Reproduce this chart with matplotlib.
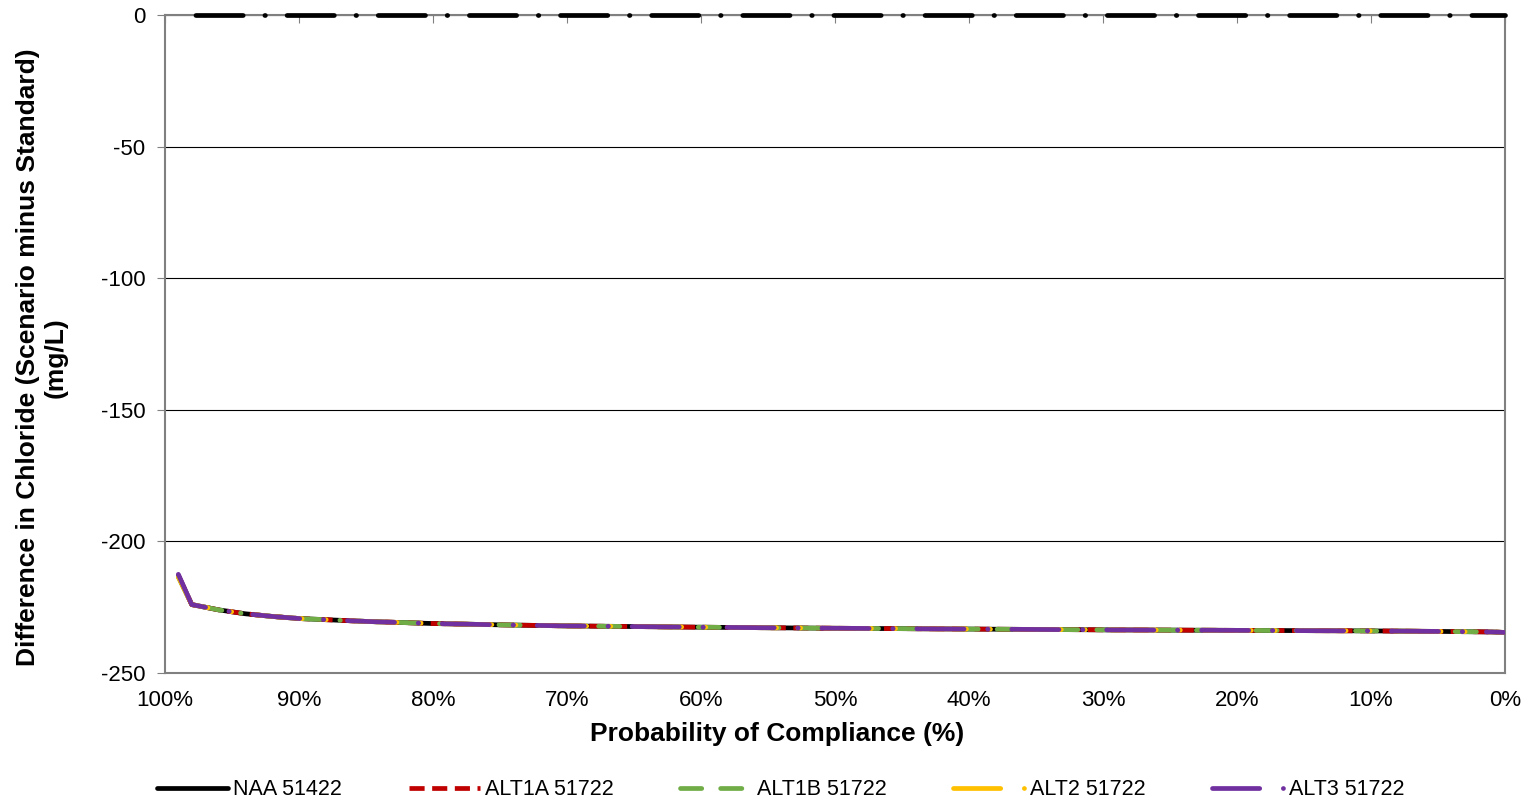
import matplotlib
matplotlib.use("Agg")
import matplotlib.pyplot as plt
from matplotlib.ticker import FuncFormatter, MultipleLocator

plt.rcParams['font.family'] = ['Liberation Sans', 'DejaVu Sans']

# Data (probability of compliance %, difference mg/L)
prob = [99, 98, 96, 94, 92, 90, 85, 80, 75, 70, 60, 50, 40, 30, 20, 10, 5, 1, 0]
naa = [-213, -224, -226, -227.5, -228.5, -229.3, -230.4, -231.2, -231.7, -232.1,
       -232.6, -233.0, -233.3, -233.6, -233.8, -234.0, -234.2, -234.4, -234.6]
alt1a = [-213, -224, -226, -227.5, -228.5, -229.3, -230.4, -231.2, -231.7, -232.1,
         -232.6, -233.0, -233.3, -233.6, -233.8, -234.0, -234.2, -234.4, -234.6]
alt1b = [-213.5, -224, -226, -227.5, -228.5, -229.3, -230.4, -231.2, -231.7, -232.1,
         -232.6, -233.0, -233.3, -233.6, -233.8, -234.0, -234.2, -234.4, -234.6]
alt2 = [-213.5, -224, -226, -227.5, -228.5, -229.3, -230.4, -231.2, -231.7, -232.1,
        -232.6, -233.0, -233.3, -233.6, -233.8, -234.0, -234.2, -234.4, -234.6]
alt3 = [-212.5, -224, -226, -227.5, -228.5, -229.3, -230.4, -231.2, -231.7, -232.1,
        -232.6, -233.0, -233.3, -233.6, -233.8, -234.0, -234.2, -234.4, -234.6]
standard_x = [99, 0]
standard_y = [0, 0]

labels = ['NAA 51422', 'ALT1A 51722', 'ALT1B 51722', 'ALT2 51722', 'ALT3 51722']

fig = plt.figure(figsize=(15.3, 8.06), dpi=100)
ax = fig.add_axes([0.1078, 0.165, 0.8759, 0.8164])

lw = 3.4
ax.plot(standard_x, standard_y, color='black', lw=lw,
        linestyle=(15.6, (10, 4.6, 0.1, 4.6)),
        dash_capstyle='round', solid_capstyle='round', clip_on=False, zorder=3)

ax.plot(prob, naa, color='black', lw=lw, label=labels[0], solid_capstyle='round', zorder=4)
ax.plot(prob, alt1a, color='#C00000', lw=lw, label=labels[1], dashes=(3.2, 1.6), zorder=5)
ax.plot(prob, alt1b, color='#70AD47', lw=lw, label=labels[2], dashes=(4.5, 4, 4.5, 4, 0.1, 4),
        dash_capstyle='round', zorder=6)
ax.plot(prob, alt2, color='#FFC000', lw=lw, label=labels[3], dashes=(10, 5, 0.1, 5),
        dash_capstyle='round', zorder=7)
ax.plot(prob, alt3, color='#7030A0', lw=lw, label=labels[4], dashes=(10, 5, 0.1, 5),
        dash_capstyle='round', zorder=8)

ax.set_xlim(100, 0)
ax.set_ylim(-250, 0)
ax.xaxis.set_major_locator(MultipleLocator(10))
ax.yaxis.set_major_locator(MultipleLocator(50))
ax.xaxis.set_major_formatter(FuncFormatter(lambda v, p: f"{int(round(v))}%"))
ax.yaxis.set_major_formatter(FuncFormatter(lambda v, p: f"{int(round(v))}"))

ax.grid(axis='y', color='black', lw=0.8)
ax.set_axisbelow(True)

for s in ['left', 'right', 'bottom', 'top']:
    ax.spines[s].set_color('#808080')
    ax.spines[s].set_linewidth(1.5)

ax.tick_params(axis='y', direction='out', length=6, color='#808080', labelsize=16, pad=8)
ax.tick_params(axis='x', bottom=False, top=True, direction='in', length=6, color='#808080',
               labelsize=16, pad=12, labelbottom=True, labeltop=False)

ax.set_xlabel('Probability of Compliance (%)', fontsize=19, fontweight='bold')
ax.set_ylabel('Difference in Chloride (Scenario minus Standard)\n(mg/L)', fontsize=19,
              fontweight='bold')
ax.xaxis.set_label_coords(0.457, -0.074)
ax.yaxis.set_label_coords(-0.0724, 0.48)

fig.legend(loc='center', bbox_to_anchor=(0.51, 0.02), ncol=5, frameon=False, fontsize=15.5,
           handlelength=3.3, handletextpad=0.25, columnspacing=3.1)

fig.savefig('out.png', dpi=100)
